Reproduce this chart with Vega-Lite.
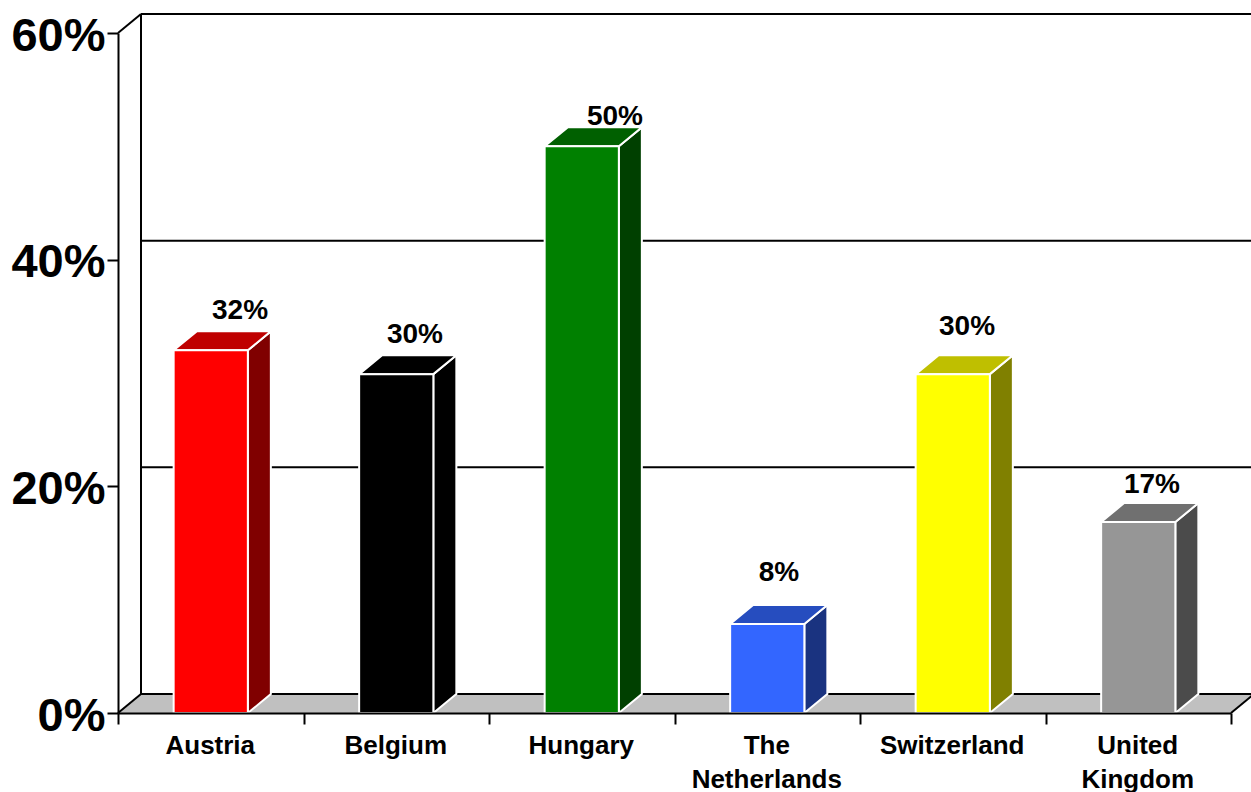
{
"$schema":"https://vega.github.io/schema/vega-lite/v6.json",
"width":1113,"height":680,
"autosize":"none",
"padding":{"left":118,"top":33,"right":20,"bottom":79},
"background":"white",
"config":{"view":{"stroke":null}},
"datasets":{
"bars":[
{"country":"Austria","value":32},
{"country":"Belgium","value":29.9},
{"country":"Hungary","value":50},
{"country":"The Netherlands","value":7.85},
{"country":"Switzerland","value":29.9},
{"country":"United Kingdom","value":16.85}],
"floor":[{"value":0}],
"grid":[{"level":0},{"level":20},{"level":40},{"level":60}],
"wall":[{"level":0,"top":60}],
"diag":[{"at":0,"level":0},{"at":0,"level":60},{"at":6,"level":0}]
},
"resolve":{"scale":{"x":"independent","color":"independent"},"axis":{"y":"independent"}},
"layer":[
{"data":{"name":"floor"},
"transform":[{"calculate":"[0,1,2,3]","as":"s"},{"flatten":["s"]},
{"calculate":"[0,0.124,6,6.124][datum.s]","as":"px"},
{"calculate":"[0,0,0,1.674][datum.s]","as":"lo"},
{"calculate":"[0,1.674,1.674,1.674][datum.s]","as":"hi"}],
"mark":{"type":"area","orient":"vertical","color":"#C0C0C0"},
"encoding":{"x":{"field":"px","type":"quantitative","scale":{"domain":[0,6],"nice":false,"zero":false},"axis":null},
"y":{"field":"lo","type":"quantitative","stack":null,"title":null,"scale":{"domain":[0,60],"nice":false},
"axis":{"values":[0,20,40,60],"grid":false,"labelExpr":"datum.value+'%'","labelFont":"Liberation Sans","labelFontWeight":"bold","labelFontSize":47,"labelColor":"black","labelPadding":2,"labelOffset":3,"tickColor":"black","tickWidth":2,"tickSize":11,"domainColor":"black","domainWidth":2,"zindex":1}},"y2":{"field":"hi"}}},
{"data":{"name":"grid"},
"transform":[{"calculate":"datum.level+1.674","as":"yy"},{"calculate":"0.124","as":"a"},{"calculate":"6.124","as":"b"}],
"mark":{"type":"rule","color":"black","strokeWidth":2},
"encoding":{"x":{"field":"a","type":"quantitative","scale":{"domain":[0,6],"nice":false,"zero":false},"axis":null},"x2":{"field":"b"},
"y":{"field":"yy","type":"quantitative","scale":{"domain":[0,60],"nice":false},"axis":null}}},
{"data":{"name":"wall"},
"transform":[{"calculate":"datum.level+1.674","as":"lo"},{"calculate":"datum.top+1.674","as":"hi"},{"calculate":"0.124","as":"a"}],
"mark":{"type":"rule","color":"black","strokeWidth":2},
"encoding":{"x":{"field":"a","type":"quantitative","scale":{"domain":[0,6],"nice":false,"zero":false},"axis":null},
"y":{"field":"lo","type":"quantitative","scale":{"domain":[0,60],"nice":false},"axis":null},"y2":{"field":"hi"}}},
{"data":{"name":"diag"},
"transform":[{"calculate":"datum.at+0.124","as":"a2"},{"calculate":"datum.level+1.674","as":"l2"}],
"mark":{"type":"rule","color":"black","strokeWidth":2},
"encoding":{"x":{"field":"at","type":"quantitative","scale":{"domain":[0,6],"nice":false,"zero":false},"axis":null},"x2":{"field":"a2"},
"y":{"field":"level","type":"quantitative","scale":{"domain":[0,60],"nice":false},"axis":null},"y2":{"field":"l2"}}},
{"data":{"name":"bars"},
"transform":[{"calculate":"indexof(['Austria','Belgium','Hungary','The Netherlands','Switzerland','United Kingdom'],datum.country)","as":"i"},
{"calculate":"[0,1]","as":"s"},{"flatten":["s"]},
{"calculate":"datum.i+0.7+0.124*datum.s","as":"px"},
{"calculate":"1.674*datum.s","as":"lo"},
{"calculate":"datum.value+1.674*datum.s","as":"hi"}],
"mark":{"type":"area","orient":"vertical","stroke":"white","strokeWidth":2},
"encoding":{"x":{"field":"px","type":"quantitative","scale":{"domain":[0,6],"nice":false,"zero":false},"axis":null},
"y":{"field":"lo","type":"quantitative","stack":null,"scale":{"domain":[0,60],"nice":false},"axis":null},"y2":{"field":"hi"},
"detail":{"field":"country"},
"color":{"field":"country","type":"nominal","legend":null,"scale":{"domain":["Austria","Belgium","Hungary","The Netherlands","Switzerland","United Kingdom"],"range":["#800000","#000000","#004000","#1A3380","#808000","#4B4B4B"]}}}},
{"data":{"name":"bars"},
"transform":[{"calculate":"indexof(['Austria','Belgium','Hungary','The Netherlands','Switzerland','United Kingdom'],datum.country)","as":"i"},
{"calculate":"[0,1,2,3]","as":"s"},{"flatten":["s"]},
{"calculate":"datum.i+[0.3,0.424,0.7,0.824][datum.s]","as":"px"},
{"calculate":"datum.value+[0,0,0,1.674][datum.s]","as":"lo"},
{"calculate":"datum.value+[0,1.674,1.674,1.674][datum.s]","as":"hi"}],
"mark":{"type":"area","orient":"vertical","stroke":"white","strokeWidth":2},
"encoding":{"x":{"field":"px","type":"quantitative","scale":{"domain":[0,6],"nice":false,"zero":false},"axis":null},
"y":{"field":"lo","type":"quantitative","stack":null,"scale":{"domain":[0,60],"nice":false},"axis":null},"y2":{"field":"hi"},
"detail":{"field":"country"},
"color":{"field":"country","type":"nominal","legend":null,"scale":{"domain":["Austria","Belgium","Hungary","The Netherlands","Switzerland","United Kingdom"],"range":["#BF0000","#000000","#006000","#264DBF","#BFBF00","#707070"]}}}},
{"data":{"name":"bars"},
"mark":{"type":"bar","stroke":"white","strokeWidth":2,"width":{"band":0.4}},
"encoding":{"x":{"field":"country","type":"nominal","sort":null,"title":null,
"scale":{"paddingInner":0,"paddingOuter":0},
"axis":{"tickBand":"extent","labelAngle":0,"labelFont":"Liberation Sans","labelFontWeight":"bold","labelFontSize":26,"labelColor":"black","labelLineHeight":34,"labelPadding":8,"labelOffset":-1,"labelExpr":"split(datum.label,' ')","tickColor":"black","tickWidth":2,"tickSize":11,"domainColor":"black","domainWidth":2,"zindex":1,"labelBaseline":"top"}},
"y":{"field":"value","type":"quantitative","scale":{"domain":[0,60],"nice":false},"axis":null},
"color":{"field":"country","type":"nominal","legend":null,"scale":{"domain":["Austria","Belgium","Hungary","The Netherlands","Switzerland","United Kingdom"],"range":["#FF0000","#000000","#008000","#3366FF","#FFFF00","#969696"]}}}},
{"data":{"name":"bars"},
"transform":[{"calculate":"indexof(['Austria','Belgium','Hungary','The Netherlands','Switzerland','United Kingdom'],datum.country)","as":"i"},
{"calculate":"[0.658,1.601,2.679,3.563,4.577,5.574][datum.i]","as":"lx"},
{"calculate":"round(datum.value)+[3.5,3.35,2.6,4.35,4.05,3.1][datum.i]","as":"ly"},
{"calculate":"round(datum.value)+'%'","as":"txt"}],
"mark":{"type":"text","font":"Liberation Sans","fontWeight":"bold","fontSize":28,"color":"black","baseline":"middle","align":"center"},
"encoding":{"x":{"field":"lx","type":"quantitative","scale":{"domain":[0,6],"nice":false,"zero":false},"axis":null},
"y":{"field":"ly","type":"quantitative","scale":{"domain":[0,60],"nice":false},"axis":null},
"text":{"field":"txt"}}}
]
}
